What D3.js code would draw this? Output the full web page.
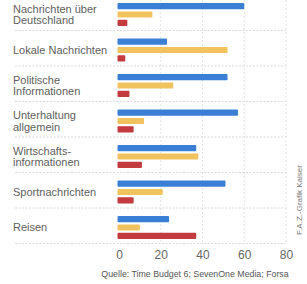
<!DOCTYPE html>
<html>
<head>
<meta charset="utf-8">
<script src="https://cdn.jsdelivr.net/npm/d3@7"></script>
<style>
  body { margin: 0; background: #fff; }
  svg { display: block; }
</style>
</head>
<body>
<svg class="Chart"></svg>
<script>
const categories = [
  ['Nachrichten über', 'Deutschland'],
  ['Lokale Nachrichten'],
  ['Politische', 'Informationen'],
  ['Unterhaltung', 'allgemein'],
  ['Wirtschafts-', 'informationen'],
  ['Sportnachrichten'],
  ['Reisen']
];
const seriesNames = ['blau', 'gelb', 'rot'];
const blueValues = [60, 23, 52, 57, 37, 51, 24];
const yellowValues = [16, 52, 26, 12, 38, 21, 10];
const redValues = [4, 3, 5, 7, 11, 7, 37];
const tickValues = [0, 20, 40, 60, 80];
const sourceText = 'Quelle: Time Budget 6; SevenOne Media; Forsa';
const creditText = 'F.A.Z.-Grafik Kaiser';

const colors = { blau: '#3b7ed6', gelb: '#f1c35f', rot: '#c33a3f' };
const width = 307;
const height = 284;

const svg = d3.select('.Chart')
  .attr('width', width)
  .attr('height', height)
  .style('font-family', '"Liberation Sans", Arial, sans-serif');

const keys = categories.map(c => c.join(' '));

// one row per category, bars stacked below each other inside the row
const x = d3.scaleLinear().domain([0, 80]).range([119, 286]);
const y = d3.scaleBand().domain(keys).range([-5, 243.5]).padding(0);
const yInner = d3.scaleBand().domain(seriesNames).range([6, 33]).padding(0.25);

const rows = keys.map((k, i) => ({
  key: k,
  lines: categories[i],
  values: [
    { s: 'blau', v: blueValues[i] },
    { s: 'gelb', v: yellowValues[i] },
    { s: 'rot', v: redValues[i] }
  ]
}));

// vertical grid
svg.selectAll('line.vgrid')
  .data(tickValues.slice(1))
  .join('line')
  .attr('class', 'vgrid')
  .attr('x1', d => x(d))
  .attr('x2', d => x(d))
  .attr('y1', 0)
  .attr('y2', y.range()[1])
  .attr('stroke', '#dcdcdc')
  .attr('stroke-width', 0.8)
  .attr('stroke-dasharray', '2,2');

// dotted row separators
svg.selectAll('line.sep')
  .data(keys)
  .join('line')
  .attr('class', 'sep')
  .attr('x1', 15)
  .attr('x2', x(80))
  .attr('y1', d => y(d) + y.bandwidth())
  .attr('y2', d => y(d) + y.bandwidth())
  .attr('stroke', '#cfcfcf')
  .attr('stroke-width', 0.8)
  .attr('stroke-dasharray', '2,1.5');

const row = svg.selectAll('g.row')
  .data(rows)
  .join('g')
  .attr('class', 'row')
  .attr('transform', d => `translate(0,${y(d.key)})`);

row.selectAll('rect')
  .data(d => d.values)
  .join('rect')
  .attr('x', x(0) - 1.5)
  .attr('y', d => yInner(d.s))
  .attr('width', d => x(d.v) - x(0) + 1.5)
  .attr('height', yInner.bandwidth())
  .attr('rx', 1)
  .attr('fill', d => colors[d.s]);

// category labels
row.append('text')
  .attr('x', 13)
  .attr('y', d => 19.5 - (d.lines.length - 1) * 5.75)
  .attr('fill', '#606060')
  .attr('font-size', 11)
  .selectAll('tspan')
  .data(d => d.lines)
  .join('tspan')
  .attr('x', 13)
  .attr('dy', (d, i) => i === 0 ? '0.35em' : 11.5)
  .text(d => d);

// x axis
const axis = svg.append('g')
  .attr('transform', `translate(0,${y.range()[1]})`)
  .call(d3.axisBottom(x).tickValues(tickValues).tickSize(0).tickPadding(7));
axis.select('.domain').remove();
axis.selectAll('text')
  .attr('fill', '#666')
  .attr('font-size', 12)
  .style('font-family', '"Liberation Sans", Arial, sans-serif');

svg.append('text')
  .attr('x', 195)
  .attr('y', 277)
  .attr('text-anchor', 'middle')
  .attr('fill', '#555')
  .attr('font-size', 8.8)
  .text(sourceText);

svg.append('text')
  .attr('transform', 'translate(302,200) rotate(-90)')
  .attr('text-anchor', 'middle')
  .attr('fill', '#777')
  .attr('font-size', 8)
  .text(creditText);
</script>
</body>
</html>
